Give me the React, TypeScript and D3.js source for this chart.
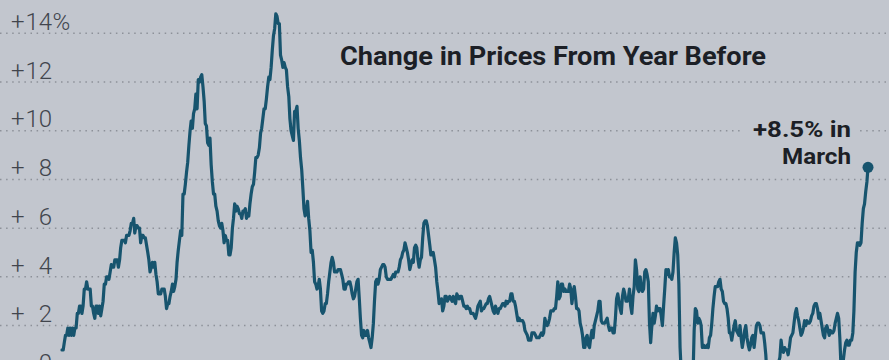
import React from "react";
import * as d3 from "d3";

// Monthly CPI change from a year earlier (%), starting January 1965
const startYear = 1965;
const values1960s = [
  1.0, 1.0, 1.3, 1.6, 1.6, 1.9, 1.6, 1.9, 1.6, 1.9, 1.6, 1.9,
  1.9, 2.5, 2.5, 2.8, 2.8, 2.5, 2.8, 3.5, 3.5, 3.8, 3.5, 3.5,
  3.5, 2.8, 2.8, 2.5, 2.3, 2.8, 2.8, 2.5, 2.8, 2.4, 2.7, 3.0,
  3.7, 3.7, 4.0, 4.0, 3.9, 4.2, 4.5, 4.4, 4.4, 4.7, 4.7, 4.7,
  4.4, 4.7, 5.2, 5.5, 5.5, 5.5, 5.4, 5.7, 5.7, 5.7, 5.9, 6.2,
];
const values1970s = [
  6.2, 6.4, 5.8, 6.1, 6.1, 6.0, 6.0, 5.4, 5.7, 5.7, 5.6, 5.6,
  5.3, 5.0, 4.7, 4.2, 4.4, 4.6, 4.4, 4.6, 4.1, 3.8, 3.3, 3.3,
  3.3, 3.5, 3.5, 3.5, 3.2, 2.7, 2.9, 2.9, 3.2, 3.4, 3.7, 3.4,
  3.6, 3.9, 4.6, 5.1, 5.5, 5.9, 5.7, 7.4, 7.4, 7.8, 8.3, 8.7,
  9.4, 10.0, 10.4, 10.1, 10.7, 10.9, 11.5, 10.9, 12.1, 12.0, 12.2, 12.3,
  11.8, 11.2, 10.3, 10.2, 9.5, 9.4, 9.7, 8.6, 7.9, 7.4, 7.4, 6.9,
  6.7, 6.3, 6.1, 6.0, 6.2, 5.9, 5.4, 5.7, 5.5, 5.5, 4.9, 4.9,
  5.2, 6.0, 6.4, 7.0, 6.7, 6.9, 6.8, 6.6, 6.6, 6.4, 6.7, 6.7,
  6.8, 6.4, 6.6, 6.5, 7.0, 7.4, 7.7, 7.8, 8.3, 8.9, 8.9, 9.0,
  9.3, 9.9, 10.1, 10.5, 10.9, 10.9, 11.3, 11.8, 12.2, 12.1, 12.6, 13.3,
];
const values1980s = [
  13.9, 14.2, 14.8, 14.7, 14.4, 14.4, 13.1, 12.9, 12.6, 12.8, 12.6, 12.5,
  11.8, 11.4, 10.5, 10.0, 9.8, 9.6, 10.8, 10.8, 11.0, 10.1, 9.6, 8.9,
  8.4, 7.6, 6.8, 6.5, 6.7, 7.1, 6.4, 5.9, 5.0, 5.1, 4.6, 3.8,
  3.7, 3.5, 3.6, 3.9, 3.5, 2.6, 2.5, 2.6, 2.9, 2.9, 3.3, 3.8,
  4.2, 4.6, 4.8, 4.6, 4.2, 4.2, 4.2, 4.3, 4.3, 4.3, 4.1, 3.9,
  3.5, 3.5, 3.7, 3.7, 3.8, 3.8, 3.6, 3.3, 3.1, 3.2, 3.5, 3.8,
  3.9, 3.1, 2.3, 1.6, 1.5, 1.8, 1.6, 1.6, 1.8, 1.5, 1.3, 1.1,
  1.5, 2.1, 3.0, 3.8, 3.9, 3.7, 3.9, 4.3, 4.4, 4.5, 4.5, 4.4,
  4.0, 3.9, 3.9, 3.9, 3.9, 4.0, 4.1, 4.0, 4.2, 4.2, 4.2, 4.4,
  4.7, 4.8, 5.0, 5.1, 5.4, 5.2, 5.0, 4.7, 4.3, 4.5, 4.7, 4.6,
];
const values1990s = [
  5.2, 5.3, 5.2, 4.7, 4.4, 4.7, 4.8, 5.6, 6.2, 6.3, 6.3, 6.1,
  5.7, 5.3, 4.9, 4.9, 5.0, 4.7, 4.4, 3.8, 3.4, 2.9, 3.0, 3.1,
  2.6, 2.8, 3.2, 3.2, 3.0, 3.1, 3.2, 3.1, 3.0, 3.2, 3.0, 2.9,
  3.3, 3.2, 3.1, 3.2, 3.2, 3.0, 2.8, 2.8, 2.7, 2.8, 2.7, 2.7,
  2.5, 2.5, 2.5, 2.4, 2.3, 2.5, 2.8, 2.9, 3.0, 2.6, 2.7, 2.7,
  2.8, 2.9, 2.9, 3.1, 3.2, 3.0, 2.8, 2.6, 2.5, 2.8, 2.6, 2.5,
  2.7, 2.7, 2.8, 2.9, 2.9, 2.8, 3.0, 2.9, 3.0, 3.0, 3.3, 3.3,
  3.0, 3.0, 2.8, 2.5, 2.2, 2.3, 2.2, 2.2, 2.2, 2.1, 1.8, 1.7,
  1.6, 1.4, 1.4, 1.4, 1.7, 1.7, 1.7, 1.6, 1.5, 1.5, 1.5, 1.6,
  1.7, 1.6, 1.7, 2.3, 2.1, 2.0, 2.1, 2.3, 2.6, 2.6, 2.6, 2.7,
];
const values2000s = [
  2.7, 3.2, 3.8, 3.1, 3.2, 3.7, 3.7, 3.4, 3.5, 3.4, 3.4, 3.4,
  3.7, 3.5, 2.9, 3.3, 3.6, 3.2, 2.7, 2.7, 2.6, 2.1, 1.9, 1.6,
  1.1, 1.1, 1.5, 1.6, 1.2, 1.1, 1.5, 1.8, 1.5, 2.0, 2.2, 2.4,
  2.6, 3.0, 3.0, 2.2, 2.1, 2.1, 2.1, 2.2, 2.3, 2.0, 1.8, 1.9,
  1.9, 1.7, 1.7, 2.3, 3.1, 3.3, 3.0, 2.7, 2.5, 3.2, 3.5, 3.3,
  3.0, 3.0, 3.1, 3.5, 2.8, 2.5, 3.2, 3.6, 4.7, 4.3, 3.5, 3.4,
  4.0, 3.6, 3.4, 3.5, 4.2, 4.3, 4.1, 3.8, 2.1, 1.3, 2.0, 2.5,
  2.1, 2.4, 2.8, 2.6, 2.7, 2.7, 2.4, 2.0, 2.8, 3.5, 4.3, 4.1,
  4.3, 4.0, 4.0, 3.9, 4.2, 5.0, 5.6, 5.4, 4.9, 3.7, 1.1, 0.1,
  0.0, 0.2, -0.4, -0.7, -1.3, -1.4, -2.1, -1.5, -1.3, -0.2, 1.8, 2.7,
];
const values2010s = [
  2.6, 2.1, 2.3, 2.2, 2.0, 1.1, 1.2, 1.1, 1.1, 1.2, 1.1, 1.5,
  1.6, 2.1, 2.7, 3.2, 3.6, 3.6, 3.6, 3.8, 3.9, 3.5, 3.4, 3.0,
  2.9, 2.9, 2.7, 2.3, 1.7, 1.7, 1.4, 1.7, 2.0, 2.2, 1.8, 1.7,
  1.6, 2.0, 1.5, 1.1, 1.4, 1.8, 2.0, 1.5, 1.2, 1.0, 1.2, 1.5,
  1.6, 1.1, 1.5, 2.0, 2.1, 2.1, 2.0, 1.7, 1.7, 1.7, 1.3, 0.8,
  -0.1, 0.0, -0.1, -0.2, 0.0, 0.1, 0.2, 0.2, 0.0, 0.2, 0.5, 0.7,
  1.4, 1.0, 0.9, 1.1, 1.0, 1.0, 0.8, 1.1, 1.5, 1.6, 1.7, 2.1,
  2.5, 2.7, 2.4, 2.2, 1.9, 1.6, 1.7, 1.9, 2.2, 2.0, 2.2, 2.1,
  2.1, 2.2, 2.4, 2.5, 2.8, 2.9, 2.9, 2.7, 2.3, 2.5, 2.2, 1.9,
  1.6, 1.5, 1.9, 2.0, 1.8, 1.6, 1.8, 1.7, 1.7, 1.8, 2.1, 2.3,
];
const values2020s = [
  2.5, 2.3, 1.5, 0.3, 0.1, 0.6, 1.0, 1.3, 1.4, 1.2, 1.2, 1.4,
  1.4, 1.7, 2.6, 4.2, 5.0, 5.4, 5.4, 5.3, 5.4, 6.2, 6.8, 7.0,
  7.5, 7.9, 8.5,
];

const yTicks = [0, 2, 4, 6, 8, 10, 12, 14];
const titleText = "Change in Prices From Year Before";
const annotationLines = ["+8.5% in", "March"];

const W = 889;
const H = 360;
const BG = "#c2c6ce";
const LINE = "#17546e";

export default function App() {
  const values = [
    ...values1960s,
    ...values1970s,
    ...values1980s,
    ...values1990s,
    ...values2000s,
    ...values2010s,
    ...values2020s,
  ];
  const data = values.map((v, i) => ({
    date: new Date(startYear + Math.floor(i / 12), i % 12, 1),
    value: v,
  }));
  const last = data[data.length - 1];

  const x = d3
    .scaleTime()
    .domain([data[0].date, last.date])
    .range([62, 868]);
  const y = d3.scaleLinear().domain([0, 14]).range([374.3, 33.3]);

  const line = d3
    .line<{ date: Date; value: number }>()
    .x((d) => x(d.date))
    .y((d) => y(d.value));

  const labelFont = "Roboto, 'Liberation Sans', Arial, sans-serif";
  const boldFont = "Roboto, 'Liberation Sans', sans-serif";

  return (
    <svg
      width={W}
      height={H}
      style={{ position: "absolute", left: 0, top: 0, display: "block" }}
    >
      <rect x={0} y={0} width={W} height={H} fill={BG} />
      {yTicks.map((t) => (
        <line
          key={"g" + t}
          x1={0}
          x2={W}
          y1={y(t)}
          y2={y(t)}
          stroke="#8d9199"
          strokeWidth={1.5}
          strokeDasharray="1.5 4.6"
        />
      ))}
      {yTicks.map((t) => (
        <g
          key={"l" + t}
          fontFamily={labelFont}
          fontWeight={300}
          fontSize={24}
          fill="#41454d"
        >
          {t > 0 && (
            <text x={11} y={y(t) - 3.3}>
              +
            </text>
          )}
          <text x={52} y={y(t) - 3.3} textAnchor="end">
            {t}
          </text>
          {t === 14 && (
            <text x={52.5} y={y(t) - 3.3}>
              %
            </text>
          )}
        </g>
      ))}
      <text
        x={340}
        y={65}
        fontFamily={boldFont}
        fontWeight={700}
        fontSize={25}
        fill="#1c1f26"
        textLength={426}
        lengthAdjust="spacingAndGlyphs"
      >
        {titleText}
      </text>
      <rect x={744} y={118} width={114} height={24} fill={BG} />
      <text
        x={851}
        y={137}
        textAnchor="end"
        fontFamily={boldFont}
        fontWeight={700}
        fontSize={22}
        fill="#1c1f26"
        textLength={98}
        lengthAdjust="spacingAndGlyphs"
      >
        {annotationLines[0]}
      </text>
      <text
        x={851}
        y={164}
        textAnchor="end"
        fontFamily={boldFont}
        fontWeight={700}
        fontSize={22}
        fill="#1c1f26"
        textLength={69}
        lengthAdjust="spacingAndGlyphs"
      >
        {annotationLines[1]}
      </text>
      <path
        d={line(data) || ""}
        fill="none"
        stroke={LINE}
        strokeWidth={3.2}
        strokeLinejoin="round"
        strokeLinecap="round"
      />
      <circle cx={x(last.date)} cy={y(last.value)} r={5.5} fill={LINE} />
    </svg>
  );
}
